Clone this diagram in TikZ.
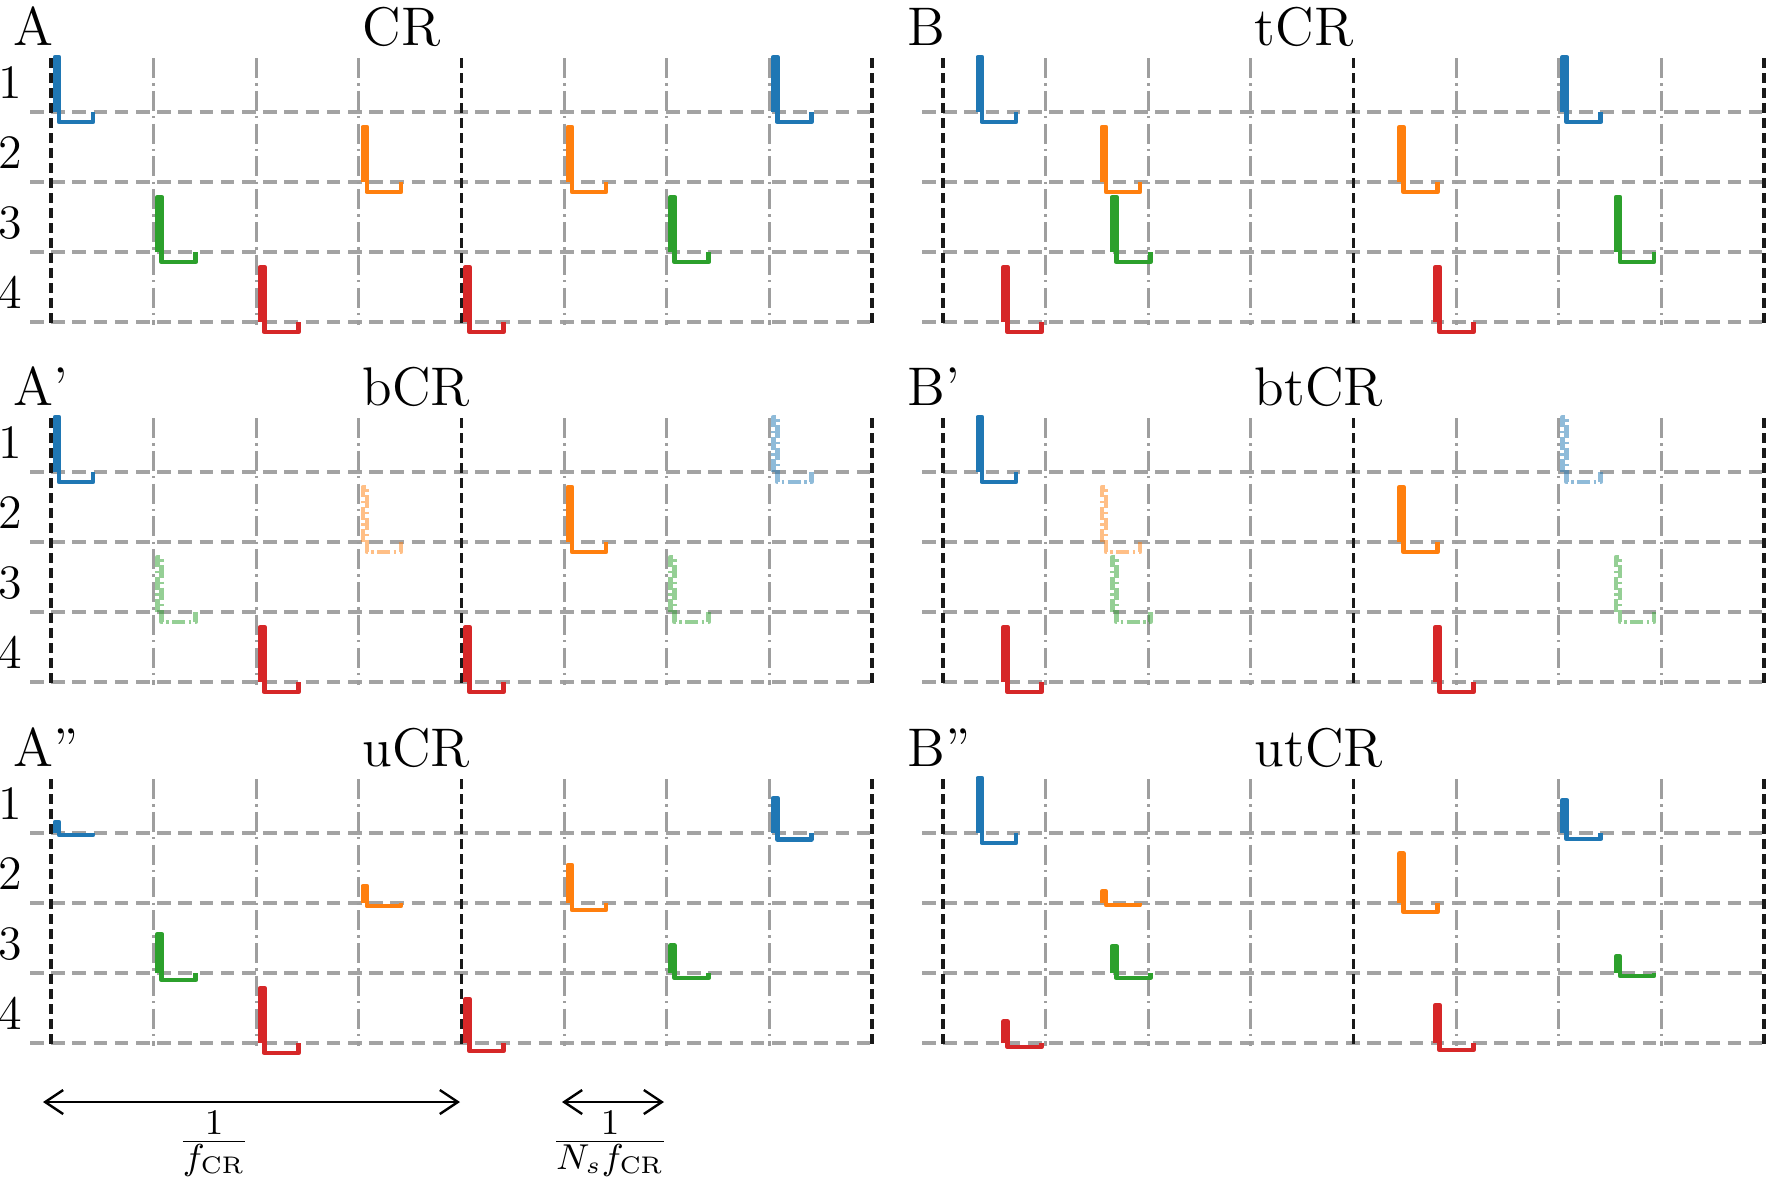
\documentclass[tikz,border=0pt]{standalone}
\usetikzlibrary{arrows.meta}

\definecolor{cblue}{HTML}{1F77B4}
\definecolor{corange}{HTML}{FF7F0E}
\definecolor{cgreen}{HTML}{2CA02C}
\definecolor{cred}{HTML}{D62728}

% grid of one panel: x0, y0
\newcommand\crgrid[2]{%
  \begin{scope}[shift={(#1,#2)}]
    \foreach \r in {1,...,4}
      \draw[hgrid] (-21,42+70*\r) -- (822,42+70*\r);
    \foreach \t in {1,2,3,5,6,7}
      \draw[vgrid] (102.6*\t,58) -- (102.6*\t,325);
    \foreach \t in {0,4,8}
      \draw[period] (102.6*\t,58) -- (102.6*\t,325);
  \end{scope}}

% pulses of one panel: x0, y0, colour/time/row/amplitude/look
\newcommand\crpulses[3]{%
  \begin{scope}[shift={(#1,#2)}]
    \foreach \col/\p/\r/\a/\f in {#3}
      \draw[pulse, draw=\col, \f] (102.6*\p,42+70*\r) -- ++(0,-55*\a) -- ++(4,0)
        -- ++(0,65*\a) -- ++(34,0) -- ++(0,-10*\a);
  \end{scope}}

\begin{document}
\begin{tikzpicture}[
  x=0.25pt, y=-0.25pt,
  hgrid/.style={draw=black!36, line width=1.05pt, dash pattern=on 3.4pt off 1.9pt},
  vgrid/.style={draw=black!38, line width=0.75pt, dash pattern=on 5pt off 1.3pt on 0.6pt off 1.3pt},
  period/.style={draw=black!90, line width=0.95pt, dash pattern=on 2.5pt off 1.25pt},
  pulse/.style={line width=1.15pt, line join=round},
  faded/.style={draw opacity=0.5, dash pattern=on 3.2pt off 0.9pt on 0.6pt off 0.9pt},
  panel/.style={font=\fontsize{13.6}{15}\selectfont, inner sep=0pt, anchor=base west},
  rowlab/.style={font=\fontsize{12}{14}\selectfont, inner sep=0pt, anchor=base},
  dim/.style={{Straight Barb[length=4.5pt,width=6pt]}-{Straight Barb[length=4.5pt,width=6pt]}, line width=0.6pt},
  fracl/.style={font=\fontsize{12.5}{14}\selectfont, inner sep=0pt}
]
\useasboundingbox (0,0) rectangle (1772,1180);

% Grids
\crgrid{51}{0}
\crgrid{51}{360}
\crgrid{51}{721}
\crgrid{943}{0}
\crgrid{943}{360}
\crgrid{943}{721}

% Panel labels and titles
\node[panel] (lA) at (13,45) {A};
\node[panel] (tA) at (362,45) {CR};
\node[panel] (lA1) at (13,405) {A'};
\node[panel] (tA1) at (362,405) {bCR};
\node[panel] (lA2) at (13,766) {A''};
\node[panel] (tA2) at (362,766) {uCR};
\node[panel] (lB) at (907,45) {B};
\node[panel] (tB) at (1254,45) {tCR};
\node[panel] (lB1) at (907,405) {B'};
\node[panel] (tB1) at (1254,405) {btCR};
\node[panel] (lB2) at (907,766) {B''};
\node[panel] (tB2) at (1254,766) {utCR};

% Channel numbers
\foreach \r in {1,...,4} {
  \node[rowlab] (rA\r) at (10,28+70*\r) {\r};
  \node[rowlab] (rAa\r) at (10,388+70*\r) {\r};
  \node[rowlab] (rAb\r) at (10,749+70*\r) {\r};
}

% Pulses, CR family
\crpulses{51}{0}{cblue/0.04/1/1/solid, cblue/7.04/1/1/solid, corange/3.04/2/1/solid, corange/5.04/2/1/solid,
  cgreen/1.04/3/1/solid, cgreen/6.04/3/1/solid, cred/2.04/4/1/solid, cred/4.04/4/1/solid}
\crpulses{51}{360}{cblue/0.04/1/1/solid, cblue/7.04/1/1/faded, corange/3.04/2/1/faded, corange/5.04/2/1/solid,
  cgreen/1.04/3/1/faded, cgreen/6.04/3/1/faded, cred/2.04/4/1/solid, cred/4.04/4/1/solid}
\crpulses{51}{721}{cblue/0.04/1/0.2/solid, cblue/7.04/1/0.64/solid, corange/3.04/2/0.31/solid, corange/5.04/2/0.69/solid,
  cgreen/1.04/3/0.71/solid, cgreen/6.04/3/0.5/solid, cred/2.04/4/1/solid, cred/4.04/4/0.8/solid}

% Pulses, tCR family
\crpulses{943}{0}{cblue/0.34/1/1/solid, cblue/6.04/1/1/solid, corange/1.55/2/1/solid, corange/4.45/2/1/solid,
  cgreen/1.65/3/1/solid, cgreen/6.56/3/1/solid, cred/0.59/4/1/solid, cred/4.8/4/1/solid}
\crpulses{943}{360}{cblue/0.34/1/1/solid, cblue/6.04/1/1/faded, corange/1.55/2/1/faded, corange/4.45/2/1/solid,
  cgreen/1.65/3/1/faded, cgreen/6.56/3/1/faded, cred/0.59/4/1/solid, cred/4.8/4/1/solid}
\crpulses{943}{721}{cblue/0.34/1/1/solid, cblue/6.04/1/0.6/solid, corange/1.55/2/0.21/solid, corange/4.45/2/0.9/solid,
  cgreen/1.65/3/0.49/solid, cgreen/6.56/3/0.3/solid, cred/0.59/4/0.39/solid, cred/4.8/4/0.69/solid}

% Periods
\coordinate (d1a) at (43,1102);
\coordinate (d1b) at (460,1102);
\coordinate (d2a) at (562,1102);
\coordinate (d2b) at (664,1102);
\draw[dim] (d1a) -- (d1b);
\draw[dim] (d2a) -- (d2b);
\node[fracl] (f1) at (214,1144) {$\frac{1}{f_{\mathrm{CR}}}$};
\node[fracl] (f2) at (610,1144) {$\frac{1}{N_s f_{\mathrm{CR}}}$};

\end{tikzpicture}
\end{document}
